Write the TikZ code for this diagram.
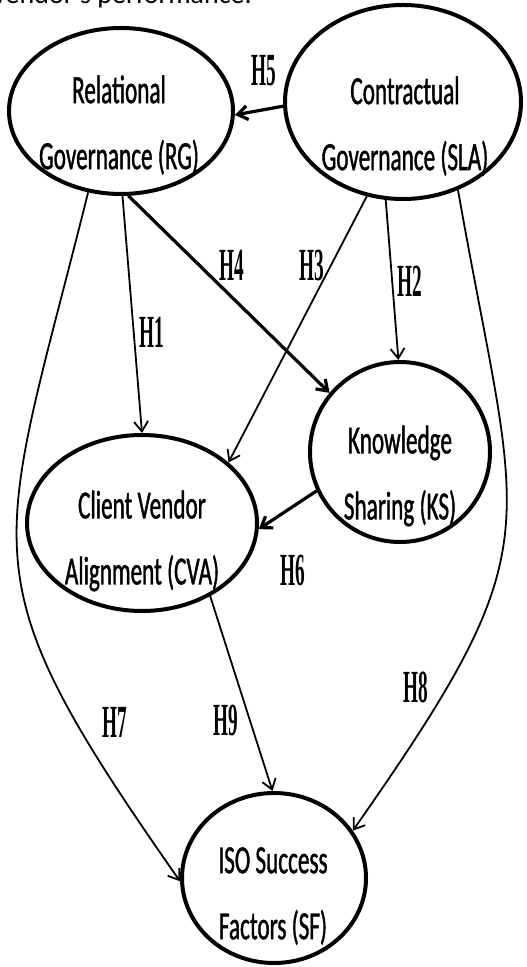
\documentclass[tikz,border=0pt]{standalone}
\usepackage{fontspec}
\setmainfont{Carlito}
\newfontfamily\constructfont[FakeStretch=0.58, FakeBold=1]{Carlito}
\newfontfamily\hypfont[FakeStretch=0.42]{Liberation Serif}
\usetikzlibrary{shapes.geometric, arrows.meta}

\tikzset{
  construct/.style={ellipse, draw, line width=2pt, inner sep=0pt},
  construct text/.style={inner sep=0pt, align=center,
    font=\constructfont\fontsize{20}{33}\selectfont},
  hyp/.style={inner sep=0pt, font=\hypfont\bfseries\fontsize{23}{24}\selectfont},
  link/.style={->, line width=0.9pt},
  strong/.style={->, line width=1.6pt}
}

\begin{document}
\begin{tikzpicture}[x=0.5pt, y=-0.5pt, >={Straight Barb[length=5pt,width=7pt]}]
   \useasboundingbox (0,0) rectangle (526,967);
   \clip (0,0) rectangle (526,967);
   % caption line cut off at the top
   \node[anchor=base east, inner sep=0pt, font=\fontsize{14}{16}\selectfont] (caption) at (252,4) {vendor's performance.};
   % constructs
   \node[construct, minimum width=112pt, minimum height=83pt] (RG) at (121,111) {};
   \node[construct, minimum width=118pt, minimum height=97pt] (SLA) at (403,102) {};
   \node[construct, minimum width=90pt, minimum height=90pt] (KS) at (400,452) {};
   \node[construct, minimum width=115pt, minimum height=88pt] (CVA) at (142,523) {};
   \node[construct, minimum width=92pt, minimum height=85pt] (SF) at (274,878) {};
   \node[construct text] (RG text) at (119,125) {Relational\\Governance (RG)};
   \node[construct text] (SLA text) at (405,126) {Contractual\\Governance (SLA)};
   \node[construct text] (KS text) at (400,476) {Knowledge\\Sharing (KS)};
   \node[construct text] (CVA text) at (142,541) {Client Vendor\\Alignment (CVA)};
   \node[construct text] (SF text) at (273,896) {ISO Success\\Factors (SF)};
   % hypotheses
   \node[hyp] (H1) at (152,332) {H1};
   \node[hyp] (H2) at (410,281) {H2};
   \node[hyp] (H3) at (312,265) {H3};
   \node[hyp] (H4) at (232,265) {H4};
   \node[hyp] (H5) at (264,71) {H5};
   \node[hyp] (H6) at (293,570) {H6};
   \node[hyp] (H7) at (115,722) {H7};
   \node[hyp] (H8) at (416,687) {H8};
   \node[hyp] (H9) at (226,720) {H9};
   \path
    (SLA.182) edge [strong] (RG.-2)
    (RG.-89)  edge [link] (CVA.90)
    (RG.-85)  edge [strong] (KS.140)
    (SLA.-111) edge [link] (CVA.35)
    (SLA.-100) edge [link] (KS.91)
    (KS.205)  edge [strong] (CVA.-3)
    (CVA.-47) edge [link] (SF.91)
    (RG.-112) edge [link, out=-104, in=125, looseness=1.4] (SF.182)
    (SLA.-58) edge [link, out=-80, in=55, looseness=1.4] (SF.31);
\end{tikzpicture}
\end{document}
